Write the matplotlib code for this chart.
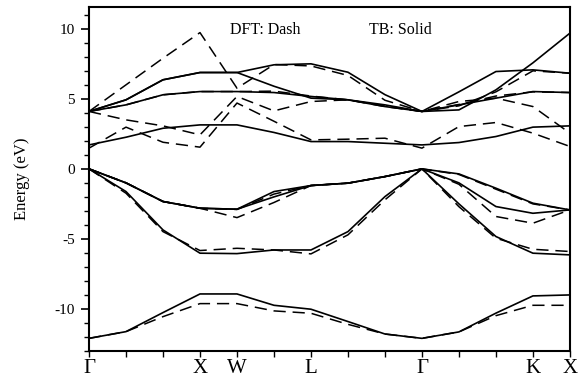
import numpy as np
import matplotlib
matplotlib.use('Agg')
import matplotlib.pyplot as plt

plt.rcParams['font.family'] = 'Liberation Serif'
plt.rcParams['axes.unicode_minus'] = False

# k-path, one point per tick (14 points)
kpts = np.arange(14)
klabels = ['Γ', 'X', 'W', 'L', 'Γ', 'K', 'X']
kpos = [0, 3, 4, 6, 9, 12, 13]

# TB bands (solid)
tb_v1 = [-12.1, -11.62, -10.26, -8.93, -8.93, -9.74, -10.02, -10.9, -11.79, -12.1, -11.64, -10.3, -9.07, -9.0]
tb_v2 = [0, -1.62, -4.36, -6.02, -6.05, -5.79, -5.79, -4.48, -1.98, 0, -2.5, -4.83, -6.02, -6.14]
tb_v3 = [0, -1.0, -2.33, -2.81, -2.88, -2.0, -1.19, -1.02, -0.55, 0, -1.0, -2.69, -3.17, -2.93]
tb_v4 = [0, -1.0, -2.33, -2.81, -2.88, -1.62, -1.19, -1.02, -0.55, 0, -0.36, -1.38, -2.45, -2.93]
tb_c1 = [1.71, 2.26, 2.9, 3.14, 3.14, 2.6, 1.95, 1.95, 1.83, 1.71, 1.88, 2.31, 2.98, 3.07]
tb_c2 = [4.1, 4.57, 5.29, 5.52, 5.52, 5.45, 5.17, 4.93, 4.57, 4.1, 4.57, 5.05, 5.52, 5.45]
tb_c3 = [4.1, 4.93, 6.36, 6.88, 6.88, 7.43, 7.5, 6.9, 5.3, 4.1, 5.5, 6.95, 7.07, 6.83]
tb_c4 = [4.1, 4.93, 6.36, 6.88, 6.88, 5.9, 5.05, 4.93, 4.45, 4.1, 4.21, 5.64, 7.57, 9.69]

# DFT bands (dashed)
dft_v1 = [-12.1, -11.62, -10.55, -9.62, -9.62, -10.14, -10.31, -11.1, -11.79, -12.1, -11.64, -10.48, -9.74, -9.74]
dft_v2 = [0, -1.74, -4.48, -5.83, -5.67, -5.79, -6.07, -4.71, -2.21, 0, -2.7, -4.95, -5.74, -5.9]
dft_v3 = [0, -1.0, -2.33, -2.81, -3.48, -2.4, -1.19, -1.02, -0.55, 0, -1.1, -3.4, -3.88, -2.93]
dft_v4 = [0, -1.0, -2.33, -2.81, -2.9, -1.8, -1.19, -1.02, -0.55, 0, -0.4, -1.45, -2.5, -2.93]
dft_c1 = [1.48, 2.98, 1.9, 1.55, 4.7, 3.4, 2.07, 2.12, 2.19, 1.48, 3.02, 3.31, 2.55, 1.6]
dft_c2 = [4.1, 3.5, 3.07, 2.43, 5.17, 4.14, 4.81, 4.93, 4.45, 4.1, 4.81, 5.05, 4.45, 2.55]
dft_c3 = [4.1, 6.0, 7.9, 9.73, 5.76, 7.45, 7.35, 6.67, 4.9, 4.1, 4.5, 5.5, 7.0, 6.83]
dft_c4 = [4.1, 4.57, 5.29, 5.52, 5.52, 5.55, 5.2, 4.93, 4.5, 4.1, 4.6, 5.2, 5.5, 5.45]

tb_bands = [tb_v1, tb_v2, tb_v3, tb_v4, tb_c1, tb_c2, tb_c3, tb_c4]
dft_bands = [dft_v1, dft_v2, dft_v3, dft_v4, dft_c1, dft_c2, dft_c3, dft_c4]

fig = plt.figure(figsize=(5.78, 3.79), dpi=100)
ax = fig.add_axes([0.154, 0.074, 0.832, 0.908])

for b in dft_bands:
    ax.plot(kpts, b, color='black', lw=1.1, dashes=(8, 4.5))
for b in tb_bands:
    ax.plot(kpts, b, color='black', lw=1.2)

ax.set_xlim(0, 13)
ax.set_ylim(-13.0, 11.57)

ax.set_xticks(kpos)
ax.set_xticklabels(klabels, fontsize=15)
ax.set_xticks(kpts, minor=True)
ax.set_yticks([-10, -5, 0, 5, 10])
ax.set_yticks(np.arange(-13, 12), minor=True)
ax.tick_params(axis='y', which='major', labelsize=11, length=6, width=1.2, direction='out', pad=4)
ax.tick_params(axis='y', which='minor', length=3.5, width=1.0, direction='out')
ax.tick_params(axis='x', which='both', length=4, width=1.0, direction='out', pad=2)

for s in ax.spines.values():
    s.set_linewidth(1.5)

ax.set_ylabel('Energy (eV)', fontsize=12, labelpad=18)

ax.text(4.76, 9.95, 'DFT: Dash', fontsize=11.5, ha='center', va='center')
ax.text(8.43, 9.95, 'TB: Solid', fontsize=11.5, ha='center', va='center')

fig.savefig('out.png', dpi=100)
